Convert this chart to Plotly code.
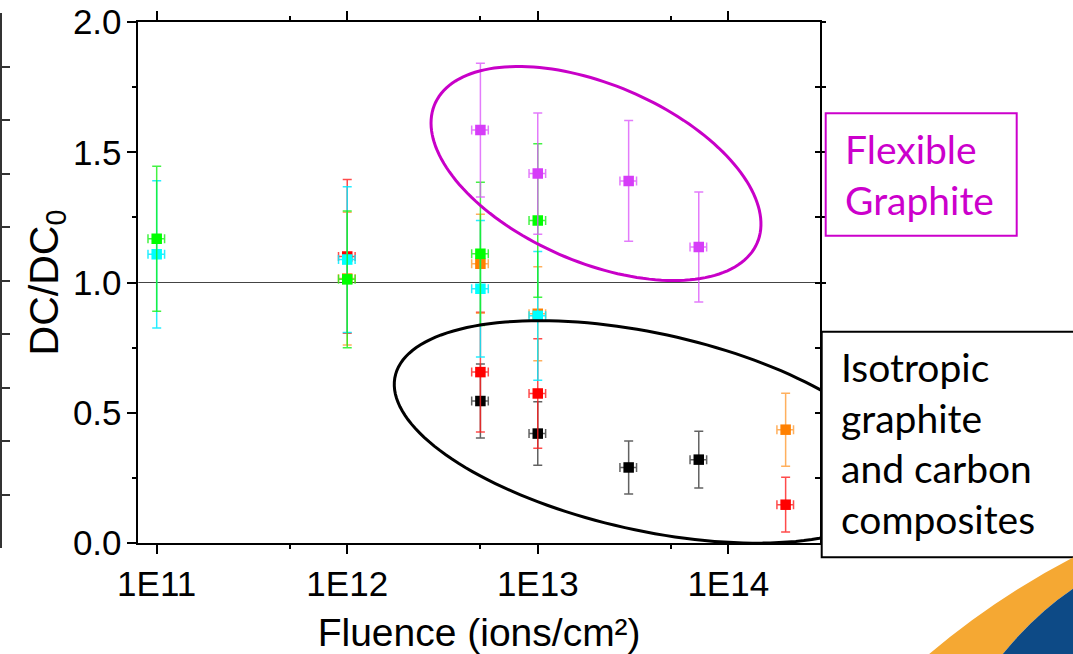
import numpy as np
import plotly.graph_objects as go

W, H = 1073, 654

# ---------------- data ----------------
x_ticks = [1e11, 1e12, 1e13, 1e14]
x_tick_text = ["1E11", "1E12", "1E13", "1E14"]
x_minor = [5e11, 5e12, 5e13]
y_ticks = [0.0, 0.5, 1.0, 1.5, 2.0]
y_tick_text = ["0.0", "0.5", "1.0", "1.5", "2.0"]
y_minor = [0.25, 0.75, 1.25, 1.75]

black_x = [5e12, 1e13, 3e13, 7e13]
black_y = [0.545, 0.42, 0.29, 0.32]
black_err = [0.142, 0.122, 0.102, 0.109]

red_x = [1e12, 5e12, 1e13, 2e14]
red_y = [1.10, 0.656, 0.574, 0.147]
red_err = [0.295, 0.23, 0.21, 0.105]

orange_x = [1e12, 5e12, 1e13, 2e14]
orange_y = [1.015, 1.072, 0.88, 0.435]
orange_err = [0.255, 0.19, 0.18, 0.14]

cyan_x = [1e11, 1e12, 5e12, 1e13]
cyan_y = [1.108, 1.088, 0.976, 0.872]
cyan_err = [0.283, 0.28, 0.262, 0.247]

green_x = [1e11, 1e12, 5e12, 1e13]
green_y = [1.168, 1.012, 1.11, 1.238]
green_err = [0.278, 0.262, 0.275, 0.295]

violet_x = [5e12, 1e13, 3e13, 7e13]
violet_y = [1.585, 1.418, 1.39, 1.136]
violet_err = [0.257, 0.233, 0.232, 0.211]

x_err_percent = 10

series = [
    ("black", black_x, black_y, black_err, "#000000", "rgba(70,70,70,0.85)"),
    ("red", red_x, red_y, red_err, "#FF0000", "rgba(255,30,30,0.8)"),
    ("orange", orange_x, orange_y, orange_err, "#FF8000", "rgba(255,150,40,0.75)"),
    ("cyan", cyan_x, cyan_y, cyan_err, "#00FFFF", "rgba(0,235,255,0.85)"),
    ("green", green_x, green_y, green_err, "#00FF00", "rgba(20,240,20,0.8)"),
    ("violet", violet_x, violet_y, violet_err, "#D63CF8", "rgba(220,90,250,0.8)"),
]

fig = go.Figure()
for name, xs, ys, es, mcol, ecol in series:
    fig.add_trace(go.Scatter(
        x=xs, y=ys, mode="markers", name=name, showlegend=False,
        marker=dict(symbol="square", size=10.5, color=mcol, line=dict(width=0)),
        error_y=dict(type="data", array=es, color=ecol, thickness=1.5, width=4.5),
        error_x=dict(type="percent", value=x_err_percent, color=ecol, thickness=1.5, width=4.5),
    ))

# dummy traces so the extra axes are drawn
for ax in ["y2", "y3", "y4"]:
    fig.add_trace(go.Scatter(x=[1e12], y=[None], yaxis=ax, mode="markers",
                             showlegend=False, hoverinfo="skip"))


def P(x, y):
    return f"{x / W:.5f},{(H - y) / H:.5f}"


def ellipse_path(cx, cy, a, b, theta_deg, n=160):
    t = np.linspace(0, 2 * np.pi, n)
    th = np.radians(theta_deg)
    xs = cx + a * np.cos(t) * np.cos(th) - b * np.sin(t) * np.sin(th)
    ys = cy + a * np.cos(t) * np.sin(th) + b * np.sin(t) * np.cos(th)
    return "M " + " L ".join(P(x, y) for x, y in zip(xs, ys)) + " Z"


shapes = [
    dict(type="line", xref="x domain", x0=0, x1=1, yref="y", y0=1, y1=1,
         line=dict(color="#444444", width=1), layer="below"),
    dict(type="path", xref="paper", yref="paper",
         path=ellipse_path(596, 173.5, 175.5, 88.7, 23.3),
         line=dict(color="#C800C8", width=3)),
    dict(type="path", xref="paper", yref="paper",
         path=ellipse_path(648.5, 431.9, 259.4, 98.6, 12.4),
         line=dict(color="#000000", width=3)),
    dict(type="rect", xref="paper", yref="paper",
         x0=825.7 / W, x1=1016.7 / W, y0=(H - 235.7) / H, y1=(H - 113.3) / H,
         line=dict(color="#CC00CC", width=2), fillcolor="white"),
    dict(type="rect", xref="paper", yref="paper",
         x0=821.7 / W, x1=1095 / W, y0=(H - 557.3) / H, y1=(H - 331.7) / H,
         line=dict(color="#000000", width=2), fillcolor="white"),
    # decorative swoosh, bottom right
    dict(type="path", xref="paper", yref="paper",
         path=f"M {P(928,655)} Q {P(995,598)} {P(1074,557)} L {P(1074,588)} Q {P(1035,614)} {P(1002,655)} Z",
         line=dict(width=0), fillcolor="#F5A833"),
    dict(type="path", xref="paper", yref="paper",
         path=f"M {P(1002,655)} Q {P(1035,614)} {P(1074,588)} L {P(1074,655)} Z",
         line=dict(width=0), fillcolor="#0D4A86"),
]

annotations = [
    dict(xref="paper", yref="paper", x=843 / W, y=(H - 124) / H, xanchor="left", yanchor="top",
         text="Flexible<br>Graphite", align="left", showarrow=False,
         font=dict(family="Lato", size=39, color="#CC00CC")),
    dict(xref="paper", yref="paper", x=839 / W, y=(H - 342) / H, xanchor="left", yanchor="top",
         text="Isotropic<br>graphite<br>and carbon<br>composites", align="left", showarrow=False,
         font=dict(family="Lato", size=39, color="#000000")),
]

tickfont = dict(family="Liberation Sans", size=35, color="black")

fig.update_layout(
    width=W, height=H, margin=dict(l=0, r=0, t=0, b=0, autoexpand=False),
    paper_bgcolor="white", plot_bgcolor="rgba(0,0,0,0)", showlegend=False,
    shapes=shapes, annotations=annotations,
    xaxis=dict(
        type="log", range=[10.9034, 14.4814], domain=[138.3 / W, 820 / W], anchor="y",
        automargin=False,
        tickmode="array", tickvals=x_ticks, ticktext=x_tick_text,
        ticks="outside", ticklen=9, tickwidth=1.5, tickcolor="black",
        showline=True, linecolor="black", linewidth=1.5, mirror="ticks",
        showgrid=False, zeroline=False, tickfont=tickfont, ticklabelstandoff=0,
        minor=dict(tickmode="array", tickvals=x_minor, ticks="outside", ticklen=4,
                   tickwidth=1.5, tickcolor="black", showgrid=False),
        title=dict(text="Fluence (ions/cm²)",
                   font=dict(family="Liberation Sans", size=39, color="black"), standoff=17),
    ),
    yaxis=dict(
        range=[0, 2], domain=[(H - 543) / H, (H - 22) / H], anchor="x",
        automargin=False,
        tickmode="array", tickvals=y_ticks, ticktext=y_tick_text,
        ticks="outside", ticklen=10, tickwidth=1.5, tickcolor="black",
        showline=True, linecolor="black", linewidth=1.5, mirror=True,
        showgrid=False, zeroline=False, tickfont=tickfont, ticklabelstandoff=-2,
        minor=dict(tickmode="array", tickvals=y_minor, ticks="outside", ticklen=5,
                   tickwidth=1.5, tickcolor="black", showgrid=False),
        title=dict(text="DC/DC<sub>0</sub>",
                   font=dict(family="Liberation Sans", size=41, color="black"), standoff=2),
    ),
    yaxis2=dict(
        overlaying="y", side="right", anchor="x", range=[0, 2], automargin=False,
        tickmode="array", tickvals=y_ticks, ticks="outside", ticklen=5, tickwidth=1.5,
        tickcolor="black", showticklabels=False, showgrid=False, zeroline=False, showline=False,
        minor=dict(tickmode="array", tickvals=y_minor, ticks="outside", ticklen=5,
                   tickwidth=1.5, tickcolor="black", showgrid=False),
    ),
    yaxis3=dict(
        overlaying="y", side="right", anchor="x", range=[0, 2], automargin=False,
        tickmode="array", tickvals=y_ticks, ticks="inside", ticklen=5, tickwidth=1.5,
        tickcolor="black", showticklabels=False, showgrid=False, zeroline=False, showline=False,
        minor=dict(tickmode="array", tickvals=y_minor, ticks="inside", ticklen=5,
                   tickwidth=1.5, tickcolor="black", showgrid=False),
    ),
    yaxis4=dict(
        anchor="free", position=0.0012, side="left", automargin=False,
        domain=[(H - 548) / H, (H - 13) / H], range=[0, 10],
        tickmode="linear", tick0=0, dtick=1, ticks="inside", ticklen=8, tickwidth=1.5,
        tickcolor="#333333", showticklabels=False, showline=True, linecolor="#333333",
        linewidth=2, showgrid=False, zeroline=False,
    ),
)

fig.write_html("out.html")
